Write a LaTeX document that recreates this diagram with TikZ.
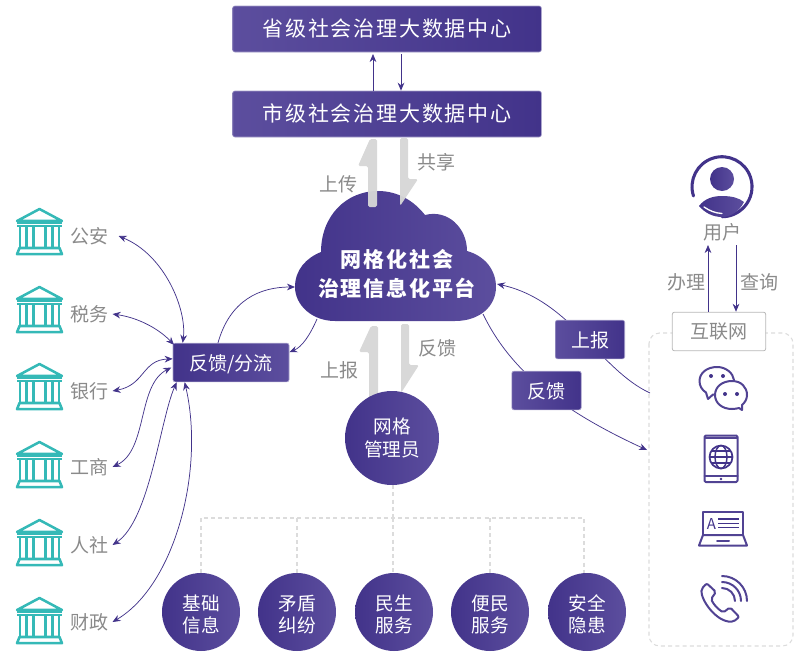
\documentclass[tikz,border=0pt]{standalone}
\usepackage{fontspec}
\usetikzlibrary{arrows.meta,calc}
\setmainfont{Noto Sans CJK SC}
\newfontfamily\spaced{Noto Sans CJK SC}[LetterSpace=8.5]
\definecolor{pdark}{HTML}{42338A}
\definecolor{plight}{HTML}{5C4E9E}
\definecolor{teal}{HTML}{35B9B7}
\definecolor{greytxt}{HTML}{8A8A8A}
\definecolor{greyarrow}{HTML}{D6D6D6}
\definecolor{dash}{HTML}{DCDCDC}
\newcommand{\sz}[1]{\pgfmathsetmacro\tmpsz{#1*0.75}\fontsize{\tmpsz pt}{1.2\dimexpr\tmpsz pt\relax}\selectfont}
\newcommand{\lowered}{\rule{0pt}{1.1em}}
\tikzset{
  x=0.75pt,y=-0.75pt,
  fwd/.style={left color=pdark,right color=plight,draw=plight!55!white,line width=0.5pt,rounded corners=1.6pt,text=white,inner sep=0pt},
  rev/.style={left color=plight,right color=pdark,draw=plight!55!white,line width=0.5pt,rounded corners=1.6pt,text=white,inner sep=0pt},
  wide/.style={rev,minimum width=231.5pt,minimum height=34.5pt,text height=13.5pt,text depth=2.8pt,font=\sz{21}\spaced},
  tag/.style={rev,minimum width=52pt,minimum height=29pt,text height=14.25pt,text depth=2pt,font=\sz{19}},
  disc/.style={circle,left color=pdark,right color=plight,text=white,inner sep=0pt,align=center,font=\sz{18.6}},
  small/.style={disc,minimum size=58.5pt},
  lab/.style={text=greytxt,font=\sz{19},inner sep=0pt},
  org/.style={lab,anchor=west,text width=36pt,align=left},
  link/.style={draw=pdark,line width=0.55pt},
  one/.style={link,-{Stealth[length=6pt,width=5pt]}},
  both/.style={link,{Stealth[length=6pt,width=5pt]}-{Stealth[length=6pt,width=5pt]}},
  tree/.style={draw=dash,line width=0.8pt,dash pattern=on 3pt off 2.4pt},
  bigarrow/.style={fill=greyarrow,draw=none,rounded corners=1.2pt,fill opacity=0.96},
  icon/.style={draw=pdark!92!white,line width=1.5pt,line join=round,line cap=round},
  bank/.pic={
    \begin{scope}[draw=teal,line width=1.9pt,line join=round]
      \draw (1,13) -- (23.5,1) -- (46,13) -- cycle;
      \draw (1,14.5) -- (46,14.5);
      \draw[line width=1.3pt] (1,18) -- (46,18);
      \foreach \c in {4,10.5,17.5,29.5,36.5,43} \draw[line width=1.6pt] (\c,18) -- (\c,40);
      \draw (3.5,40) -- (43.5,40) -- (46,46.2) -- (1,46.2) -- cycle;
    \end{scope}
  }
}
\begin{document}
\begin{tikzpicture}
\useasboundingbox (0,0) rectangle (800,664);

% data centres
\node[wide] (prov) at (387,29) {省级社会治理大数据中心};
\node[wide] (city) at (387,114) {市级社会治理大数据中心};
\draw[one] (city.north -| 373,0) -- (373,54);
\draw[one] (401,54) -- (city.north -| 401,0);

% platform cloud
\shade[left color=pdark,right color=plight]
  (335,321) .. controls (312,321) and (295,305) .. (295,287)
  .. controls (295,270) and (306,258) .. (321,252)
  .. controls (321,216) and (346,191) .. (378,191)
  .. controls (398,191) and (414,201) .. (425,215)
  .. controls (448,209) and (467,228) .. (467,251)
  .. controls (485,256) and (496,270) .. (496,287)
  .. controls (496,306) and (480,321) .. (455,321) -- cycle;
\node[text=white,align=center,inner sep=0pt,font=\bfseries\sz{21}\spaced] (cloud) at (397,274) {网格化社会\\[3pt]治理信息化平台};
\coordinate (cloudW) at (295,287);
\coordinate (cloudE) at (497,284);
\coordinate (cloudSW) at (317,319);
\coordinate (cloudSE) at (483,314);

% gray flow arrows, upper pair
\fill[bigarrow] (377,139) -- (377,207) -- (368,207) -- (368,166) -- (358,166) -- (370,139) -- cycle;
\fill[bigarrow] (400,138) -- (408,138) -- (408,179) -- (418,179) -- (400,206) -- cycle;
% gray flow arrows, lower pair
\fill[bigarrow] (378,326) -- (378,400) -- (369,400) -- (369,352) -- (359,352) -- (371,326) -- cycle;
\fill[bigarrow] (401,324) -- (409,324) -- (409,365) -- (419,365) -- (401,393) -- cycle;

% flow labels
\node[lab] (up) at (338,184) {上传};
\node[lab] (share) at (436,162) {共享};
\node[lab] (rep) at (339,370) {上报};
\node[lab] (back) at (437,348) {反馈};

% grid manager and its duties
\node[disc,minimum size=70.5pt] (mgr) at (392,438) {网格\\管理员};
\node[small] (d1) at (201,612) {\lowered 基础\\信息};
\node[small] (d2) at (297,612) {\lowered 矛盾\\纠纷};
\node[small] (d3) at (394,612) {\lowered 民生\\服务};
\node[small] (d4) at (490,612) {\lowered 便民\\服务};
\node[small] (d5) at (587,612) {\lowered 安全\\隐患};
\coordinate (bus) at (393,518);
\draw[tree] (mgr.south -| bus) -- (bus);
\draw[tree] (d1.north) -- (bus -| d1.north) -- (bus -| 584,0) -- (584,573);
\draw[tree] (d2.north) -- (bus -| d2.north);
\draw[tree] (bus) -- (d3.north -| bus);
\draw[tree] (d4.north) -- (bus -| d4.north);

% government departments
\foreach \n/\t/\y/\ty in {a/公安/208/236,b/税务/286/314,c/银行/363/391,d/工商/441/467,e/人社/519/545,f/财政/597/622}{
  \pic at (16,\y) {bank};
  \node[org] (\n) at (70,\ty) {\t};
}
\node[fwd,minimum width=87pt,minimum height=29pt,text height=14.25pt,text depth=2pt,font=\sz{19}] (fb) at (231,362.5) {反馈/分流};
\draw[both] (a.east) .. controls (165,255) and (187,310) .. ([xshift=7.5pt]fb.north west);
\draw[both] ([xshift=-4.5pt]b.east) .. controls (140,318) and (160,330) .. ([xshift=1pt,yshift=-1.5pt]fb.north west);
\draw[both] ([xshift=-4.5pt]c.east) .. controls (145,385) and (142,360) .. ([yshift=-12pt]fb.north west);
\draw[both] ([xshift=-4.5pt]d.east) .. controls (148,450) and (137,385) .. ([xshift=-1pt,yshift=-18.5pt]fb.north west);
\draw[both] ([xshift=-4.5pt]e.east) .. controls (150,520) and (160,420) .. ([xshift=3pt]fb.south west);
\draw[both] ([xshift=-4.5pt]f.east) .. controls (175,585) and (205,470) .. ([xshift=9pt]fb.south west);
\draw[one] ([xshift=34pt]fb.north west) .. controls (230,300) and (260,287) .. (cloudW);
\draw[one] (cloudSW) .. controls (310,335) and (302,347) .. ([yshift=-7pt]fb.north east);

% citizen channels
\draw[tree,rounded corners=8pt] (649,333) rectangle (793,646);
\node[draw=black!28,fill=white,rounded corners=1.6pt,line width=0.6pt,minimum width=70pt,minimum height=29pt,text=greytxt,inner sep=0pt,font=\sz{19}] (net) at (719,331.5) {互联网};
\coordinate (side1) at (650,393);
\coordinate (side2) at (647,450);
\draw[one] (side1) .. controls (600,370) and (570,300) .. (cloudE);
\draw[one] (cloudSE) .. controls (510,370) and (560,410) .. (side2);
\node[tag] (t1) at (590,339.5) {上报};
\node[tag] (t2) at (546.5,390.5) {反馈};

% user
\draw[draw=pdark,line width=2.3pt,line cap=round] (693.5,196) arc[start angle=198,end angle=-90,radius=22.5pt];
\shade[left color=pdark,right color=plight] (722,179) circle[radius=9pt];
\shade[left color=pdark,right color=plight]
  (699,206) .. controls (705,198) and (714,196) .. (722,196)
  .. controls (732,196) and (739,198) .. (744,202)
  .. controls (739,212) and (730,217) .. (722,217)
  .. controls (713,217) and (705,213) .. (699,206) -- cycle;
\draw[white,line width=1pt,line cap=round] (704,207) .. controls (710,211) and (715,213) .. (722,213.5);
\node[lab] (user) at (722,232) {用户};
\draw[one] (net.north -| 708,0) -- (708,245);
\draw[one] (736,245) -- (net.north -| 736,0);
\node[lab] (do) at (686,282) {办理};
\node[lab] (ask) at (759.5,282) {查询};

% chat bubbles
\draw[icon] (717,367) .. controls (707,367) and (699.5,373) .. (699.5,381) .. controls (699.5,386) and (702,390) .. (706,392.5) -- (708,399) -- (713,394.5) .. controls (715,395) and (716,395) .. (717,395);
\draw[icon] (717,367) .. controls (726,367) and (733,373) .. (734,380);
\draw[icon,fill=white] (732,381) .. controls (722,381) and (715,387) .. (715,395) .. controls (715,403) and (722,409) .. (732,409) .. controls (735,409) and (737,408.5) .. (739,408) -- (742,410) -- (742,405) .. controls (745,402.5) and (747,399) .. (747,395) .. controls (747,387) and (741,381) .. (732,381) -- cycle;
\foreach \p in {(711,376),(723,376),(725,394),(737,394)} \fill[pdark] \p circle[radius=1.5pt];

% tablet
\draw[icon,rounded corners=1pt] (704.5,435.5) rectangle (737.5,482);
\draw[icon] (704.5,476) -- (737.5,476);
\draw[icon,line width=1pt] (705,438) -- (737,438);
\fill[pdark] (721,479) circle[radius=1pt];
\begin{scope}[line width=1.2pt]
\draw[draw=pdark,line width=1.3pt] (721,457) circle[radius=8.6pt];
\draw[draw=pdark,line width=1.1pt] (721,457) ellipse[x radius=4.5pt,y radius=8.6pt];
\draw[draw=pdark,line width=1.1pt] (709.5,457) -- (732.5,457);
\draw[draw=pdark,line width=1.1pt] (711,451) -- (731,451);
\draw[draw=pdark,line width=1.1pt] (711,463) -- (731,463);
\end{scope}

% laptop
\draw[icon] (703,535) -- (703,512) -- (743,512) -- (743,535);
\draw[icon] (703,535) -- (743,535) -- (747,545.5) -- (699,545.5) -- cycle;
\draw[icon] (717,541) -- (729,541);
\node[text=pdark,inner sep=0pt,font=\sz{15}] (letter) at (711.5,524) {A};
\foreach \y in {519,523.5,527.5} \draw[draw=pdark,line width=1.2pt] (718,\y) -- (739,\y);

% telephone
\draw[icon,rounded corners=1.5pt] (706.7,583.3) -- (701.5,589) .. controls (701,600) and (716,622) .. (733.3,621.7) -- (739.3,617) -- (730,607.3) -- (723.3,612.5) .. controls (718,609) and (714,605) .. (711,599) -- (716,592) -- cycle;
\coordinate (ph) at (722,601);
\foreach \r in {13,19,25}
  \draw[icon] ($(ph)+(0,-\r)$) arc[start angle=90,end angle=0,radius=\r*0.75pt];
\end{tikzpicture}
\end{document}
